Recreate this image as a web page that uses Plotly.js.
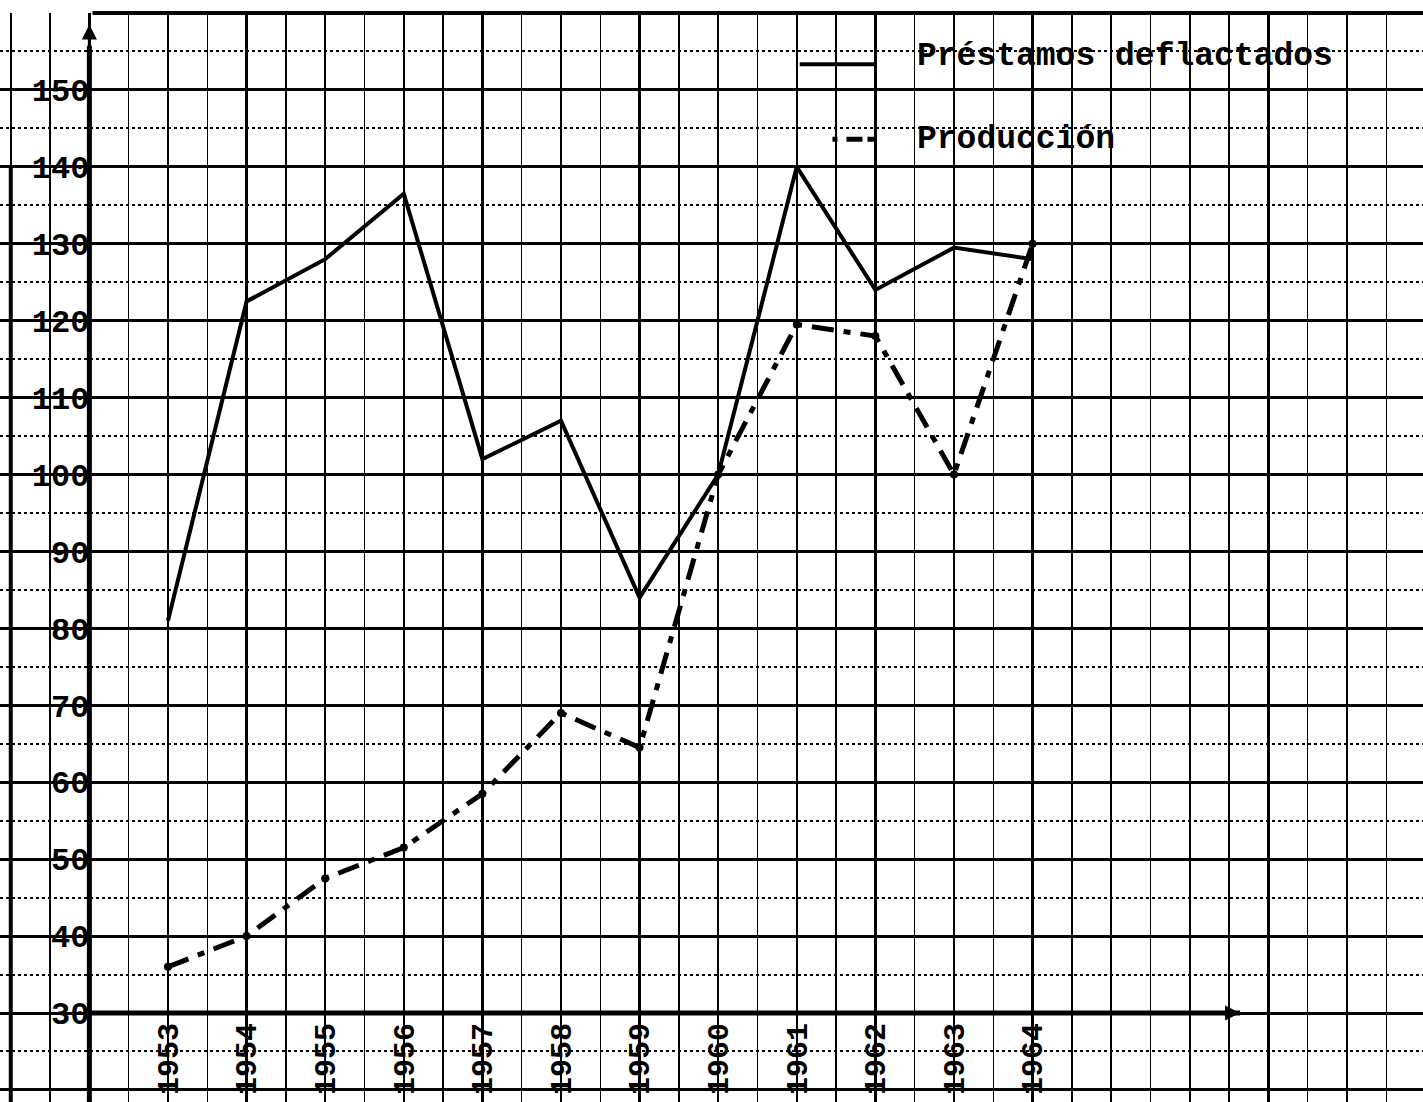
<!DOCTYPE html>
<html>
<head>
<meta charset="utf-8">
<script src="https://cdn.plot.ly/plotly-3.0.1.min.js"></script>
<style>html,body{margin:0;padding:0;background:#fff;}#chart{width:1423px;height:1102px;}</style>
</head>
<body>
<div id="chart"></div>
<script>
// ---- data ----
const years = [1953, 1954, 1955, 1956, 1957, 1958, 1959, 1960, 1961, 1962, 1963, 1964];
const yearLabels = ['1953', '1954', '1955', '1956', '1957', '1958', '1959', '1960', '1961', '1962', '1963', '1964'];
const prestamos = [81, 122.5, 128, 136.5, 102, 107, 84, 100, 140, 124, 129.5, 128];
const produccion = [36, 40, 47.5, 51.5, 58.5, 69, 64.5, 100, 119.5, 118, 100, 130];
const yTickValues = [30, 40, 50, 60, 70, 80, 90, 100, 110, 120, 130, 140, 150];
const seriesNames = ['Préstamos deflactados', 'Producción'];

// ---- layout constants ----
const W = 1423, H = 1102;
const xRange = [1950.863, 1968.967];
const yRange = [18.43, 160];
const axisYear = 1952;      // position of vertical axis
const axisValue = 30;       // position of horizontal axis
const axisEndYear = 1966.64;
const FONT = '"Liberation Mono", "DejaVu Sans Mono", monospace';

// grid tick arrays (labels only where the reference prints them)
const xGridVals = [], xGridText = [];
for (let v = 1951; v <= 1968; v++) { xGridVals.push(v); const i = years.indexOf(v); xGridText.push(i >= 0 ? yearLabels[i] : ''); }
const yGridVals = [], yGridText = [];
for (let v = 20; v <= 160; v += 10) { yGridVals.push(v); yGridText.push(yTickValues.includes(v) ? String(v) : ''); }

const xPos = (axisYear - xRange[0]) / (xRange[1] - xRange[0]);
const yPos = (axisValue - yRange[0]) / (yRange[1] - yRange[0]) * ((H - 13) / H);

const traces = [
  { x: years, y: prestamos, name: seriesNames[0], type: 'scatter', mode: 'lines',
    line: { color: '#000', width: 4 }, showlegend: false },
  { x: years, y: produccion, name: seriesNames[1], type: 'scatter', mode: 'lines+markers',
    line: { color: '#000', width: 5, dash: '22px,10px,7px,10px' },
    marker: { color: '#000', size: 8 }, showlegend: false }
];

const layout = {
  width: W, height: H,
  margin: { l: 0, r: 0, t: 13, b: 0 },
  paper_bgcolor: '#fff', plot_bgcolor: '#fff',
  showlegend: false,
  xaxis: {
    range: xRange, tickmode: 'array', tickvals: xGridVals, ticktext: xGridText,
    anchor: 'free', position: yPos,
    showgrid: true, gridcolor: '#000', gridwidth: 2.5,
    minor: { dtick: 0.5, tick0: 1950.5, showgrid: true, gridcolor: '#000', gridwidth: 1.5 },
    zeroline: false, showline: false, ticks: '',
    tickangle: -90, tickfont: { family: FONT, size: 30, color: '#000', weight: 'bold' },
    ticklabelstandoff: 2
  },
  yaxis: {
    range: yRange, tickmode: 'array', tickvals: yGridVals, ticktext: yGridText,
    anchor: 'free', position: xPos,
    showgrid: true, gridcolor: '#000', gridwidth: 3,
    minor: { dtick: 5, tick0: 0, showgrid: true, gridcolor: '#000', gridwidth: 2, griddash: 'dot' },
    zeroline: false, showline: false, ticks: '',
    tickfont: { family: FONT, size: 32, color: '#000', weight: 'bold' },
    ticklabelstandoff: 0
  },
  shapes: [
    // vertical axis
    { type: 'line', xref: 'x', yref: 'paper', x0: axisYear, x1: axisYear, y0: 0, y1: 0.97, line: { color: '#000', width: 5 } },
    // horizontal axis
    { type: 'line', xref: 'x', yref: 'y', x0: axisYear, x1: axisEndYear, y0: axisValue, y1: axisValue, line: { color: '#000', width: 5 } },
    // top border of the paper
    { type: 'line', xref: 'paper', yref: 'paper', x0: 0.065, x1: 1, y0: 1, y1: 1, line: { color: '#000', width: 4 } },
    // left border
    { type: 'line', xref: 'x', yref: 'y', x0: 1951, x1: 1951, y0: 140, y1: yRange[0], line: { color: '#000', width: 4 } },
    // legend samples
    { type: 'line', xref: 'paper', yref: 'paper', x0: 0.562, x1: 0.616, y0: 0.953, y1: 0.953, line: { color: '#000', width: 4 } },
    { type: 'line', xref: 'paper', yref: 'paper', x0: 0.585, x1: 0.616, y0: 0.884, y1: 0.884, line: { color: '#000', width: 5, dash: '5px,9px,16px' } }
  ],
  annotations: [
    { xref: 'paper', yref: 'paper', x: 0.643, y: 0.960, xanchor: 'left', yanchor: 'middle', showarrow: false,
      text: seriesNames[0], font: { family: FONT, size: 33, color: '#000', weight: 'bold' } },
    { xref: 'paper', yref: 'paper', x: 0.643, y: 0.884, xanchor: 'left', yanchor: 'middle', showarrow: false,
      text: seriesNames[1], font: { family: FONT, size: 33, color: '#000', weight: 'bold' } },
    // arrow heads of axes
    { xref: 'x', yref: 'y', x: axisYear, y: 158.5, ax: 0, ay: 40, showarrow: true, arrowhead: 2, arrowsize: 1, arrowwidth: 3, arrowcolor: '#000', text: '' },
    { xref: 'x', yref: 'y', x: axisEndYear, y: axisValue, ax: -40, ay: 0, showarrow: true, arrowhead: 2, arrowsize: 1, arrowwidth: 3, arrowcolor: '#000', text: '' }
  ]
};

Plotly.newPlot('chart', traces, layout, { displayModeBar: false, staticPlot: true });
</script>
</body>
</html>
